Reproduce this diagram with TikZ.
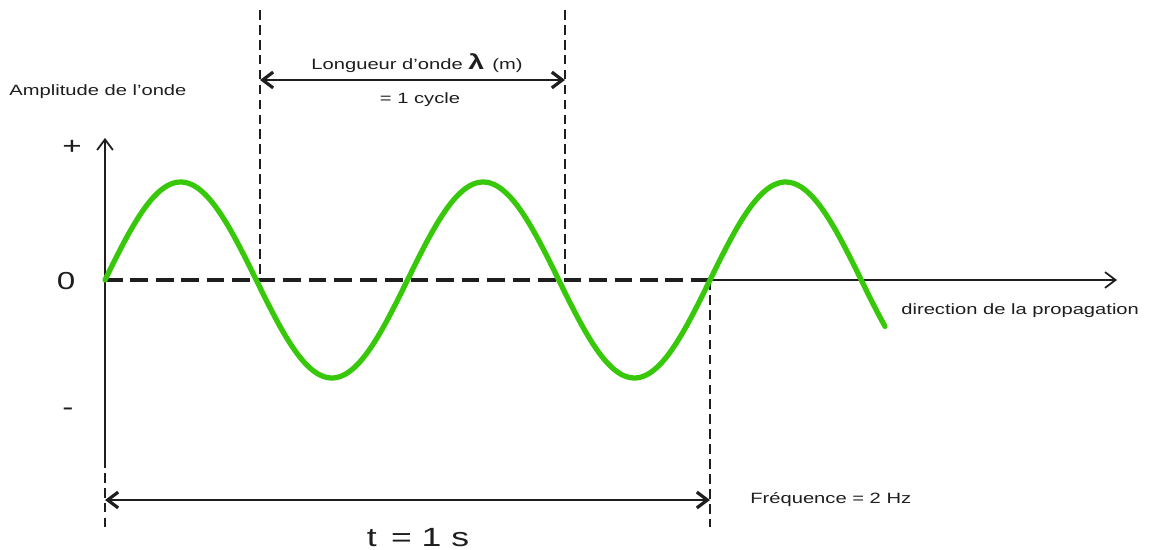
\documentclass[tikz,border=0pt]{standalone}
\usepackage{fontspec}
\setmainfont{Liberation Sans}[FakeStretch=1.35]
\usetikzlibrary{arrows.meta}
\definecolor{wave}{RGB}{55,200,10}
\definecolor{ink}{RGB}{30,30,30}
\begin{document}
\begin{tikzpicture}[x=0.02cm,y=-0.02cm,
  lbl/.style={inner sep=0pt,text=ink,font=\fontsize{8.5}{10}\selectfont},
  big/.style={inner sep=0pt,text=ink,font=\fontsize{14}{16}\selectfont},
  axis/.style={draw=ink,line width=1.3pt},
  axtip/.style={-{Straight Barb[length=6pt,width=9pt,line width=1pt]}},
  guide/.style={draw=ink,line width=1.3pt,dash pattern=on 5.5pt off 3pt},
  zerodash/.style={draw=ink,line width=1.9pt,dash pattern=on 10pt off 4.5pt},
  dim/.style={draw=ink,line width=1.3pt,{Straight Barb[length=6pt,width=9pt,line width=1.8pt]}-{Straight Barb[length=6pt,width=9pt,line width=1.8pt]}},
  wavestyle/.style={draw=wave,line width=3pt,line cap=round,line join=round}]
\useasboundingbox (0,0) rectangle (1150,550);
% coordinates
\coordinate (O) at (105,280);
\coordinate (ytop) at (105,138);
\coordinate (ymid) at (105,458);
\coordinate (ybot) at (105,530);
\coordinate (X2) at (710,280);
\coordinate (xend) at (1117,280);
\coordinate (d1t) at (260,10);
\coordinate (d1b) at (260,280);
\coordinate (d2t) at (565,10);
\coordinate (d2b) at (565,280);
\coordinate (d3b) at (710,527);
\coordinate (a1) at (260,80);
\coordinate (a2) at (565,80);
\coordinate (b1) at (105,500);
\coordinate (b2) at (710,500);
% guides
\draw[guide] (d1t) -- (d1b);
\draw[guide] (d2t) -- (d2b);
\draw[guide] (X2) -- (d3b);
\draw[guide] (ymid) -- (ybot);
% axes
\draw[axis,axtip] (ymid) -- (ytop);
\draw[zerodash] (O) -- (X2);
\draw[axis,axtip] (X2) -- (xend);
% dimension arrows
\draw[dim] (a1) -- (a2);
\draw[dim] (b1) -- (b2);
% wave
\draw[wavestyle] plot[domain=105:885,samples=240] (\x,{280-98*sin((\x-105)/302.5*360)});
% labels
\node[lbl,anchor=west] (amp) at (9,92) {Amplitude de l'onde};
\node[big] (plus) at (72,147) {+};
\node[big] (zero) at (66,281) {0};
\node[big] (minus) at (68,412) {-};
\node[lbl,anchor=west] (dir) at (901,311) {direction de la propagation};
\node[lbl] (lam) at (417,63) {Longueur d'onde {\bfseries\fontsize{12}{12}\selectfont λ}\, (m)};
\node[lbl] (cyc) at (420,100) {= 1 cycle};
\node[lbl,anchor=west] (freq) at (750,500) {Fréquence = 2 Hz};
\node[big,font=\fontsize{15}{17}\selectfont] (t) at (418,538) {t \,= 1 s};
\end{tikzpicture}
\end{document}
